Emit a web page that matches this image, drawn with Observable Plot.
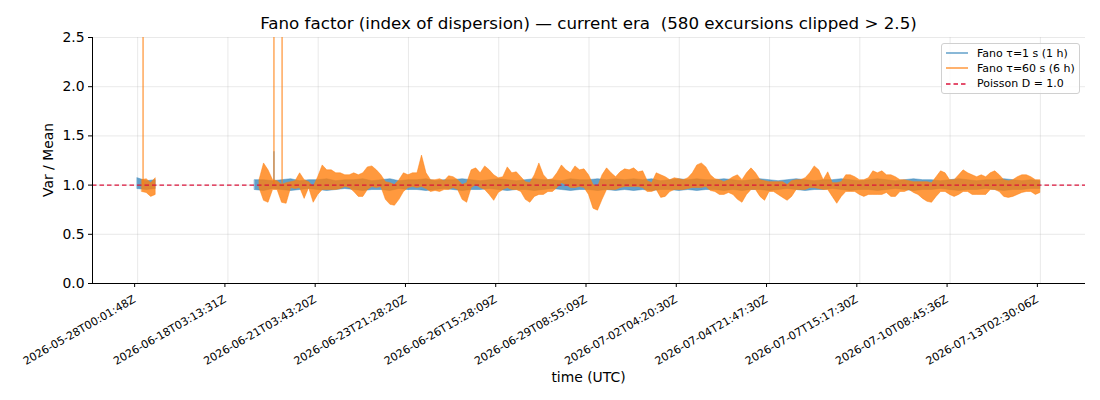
<!DOCTYPE html>
<html><head><meta charset="utf-8">
<script src="https://cdn.jsdelivr.net/npm/d3@7"></script>
<script src="https://cdn.jsdelivr.net/npm/@observablehq/plot@0.6"></script>
<style>
body{margin:0;background:#fff;font-family:"DejaVu Sans",sans-serif;}
#wrap{position:relative;width:1100px;height:400px;overflow:hidden;}
#title{position:absolute;left:92px;width:993px;top:12px;text-align:center;font-size:16.7px;line-height:22px;white-space:pre;color:#000;}
.lab{position:absolute;font-size:13.9px;color:#000;white-space:nowrap;}
#xlab{left:92px;width:993px;top:369px;text-align:center;}
#ylab{left:48px;top:160px;transform:translate(-50%,-50%) rotate(-90deg);}
#legend{position:absolute;left:941px;top:43px;width:137px;height:49px;border:1px solid #d0d0d0;border-radius:3px;background:rgba(255,255,255,0.8);font-size:11px;}
.row{position:absolute;left:3px;height:14px;display:flex;align-items:center;}
.row svg{width:24px;height:14px;margin-right:8px;}
</style></head><body>
<div id="wrap">
<div id="chart"></div>
<div id="title">Fano factor (index of dispersion) — current era  (580 excursions clipped &gt; 2.5)</div>
<div class="lab" id="xlab">time (UTC)</div>
<div class="lab" id="ylab">Var / Mean</div>
<div id="legend"></div>
</div>
<script>
// x tick positions (sample index) and their labels
const tickIndex = [0, 100, 200, 300, 400, 500, 600, 700, 800, 900, 1000];
const tickLabels = ["2026-05-28T00:01:48Z","2026-06-18T03:13:31Z","2026-06-21T03:43:20Z","2026-06-23T21:28:20Z","2026-06-26T15:28:09Z","2026-06-29T08:55:09Z","2026-07-02T04:20:30Z","2026-07-04T21:47:30Z","2026-07-07T15:17:30Z","2026-07-10T08:45:36Z","2026-07-13T02:30:06Z"];

// Fano tau=60 s envelope (low/high), one sample every 5 index steps
const orangeStep = 5;
const orangeLo = [
null,0.93,0.92,0.88,0.90,null,null,null,null,null,
null,null,null,null,null,null,null,null,null,null,
null,null,null,null,null,null,null,0.97,0.84,0.82,
0.95,0.95,0.82,0.81,0.97,0.96,0.97,0.86,0.97,0.82,
0.90,0.95,0.95,0.95,0.95,0.96,0.98,0.97,0.93,0.88,
0.88,0.95,0.98,0.97,0.98,0.85,0.80,0.79,0.85,0.93,
0.97,0.98,0.97,0.98,0.96,0.93,0.94,0.93,0.95,0.95,
0.97,0.95,0.85,0.82,0.97,1.00,0.97,0.95,0.90,0.84,
0.92,0.95,0.97,0.95,0.95,0.93,0.85,0.82,0.88,0.90,
0.90,0.93,0.93,0.97,1.02,1.00,0.97,0.97,0.98,0.97,
0.90,0.76,0.74,0.85,0.95,0.95,0.95,0.97,0.98,0.98,
0.98,0.98,0.97,0.93,0.93,0.95,0.87,0.88,0.93,0.95,
0.95,0.95,0.96,0.97,0.97,0.97,0.98,0.94,0.93,0.90,
0.90,0.92,0.90,0.85,0.82,0.90,0.95,0.95,0.88,0.84,
0.93,0.93,0.90,0.87,0.84,0.88,0.95,0.95,0.95,0.97,
0.97,0.96,0.95,0.95,0.88,0.81,0.88,0.93,0.93,0.93,
0.90,0.88,0.90,0.90,0.90,0.90,0.92,0.88,0.88,0.93,
0.93,0.95,0.92,0.90,0.86,0.83,0.82,0.88,0.93,0.93,
0.90,0.88,0.90,0.93,0.93,0.90,0.90,0.90,0.90,0.95,
0.95,0.93,0.88,0.87,0.88,0.90,0.92,0.93,0.93,0.90,
0.92];
const orangeHi = [
null,1.05,1.06,1.02,1.07,null,null,null,null,null,
null,null,null,null,null,null,null,null,null,null,
null,null,null,null,null,null,null,1.05,1.22,1.15,
1.05,1.04,1.00,1.02,1.03,1.04,1.12,1.05,1.03,0.98,
1.08,1.20,1.15,1.15,1.12,1.12,1.10,1.10,1.12,1.10,
1.12,1.18,1.19,1.15,1.10,1.03,1.02,1.00,1.05,1.12,
1.10,1.12,1.12,1.30,1.12,1.05,1.05,1.06,1.04,1.09,
1.08,1.05,1.00,1.02,1.15,1.17,1.12,1.19,1.15,1.10,
1.07,1.08,1.18,1.12,1.13,1.08,1.03,1.02,1.10,1.22,
1.10,1.05,1.06,1.12,1.20,1.15,1.12,1.19,1.15,1.16,
1.10,1.00,0.98,1.10,1.17,1.12,1.08,1.13,1.16,1.15,
1.17,1.13,1.14,1.04,1.02,1.12,1.10,1.08,1.05,1.07,
1.06,1.05,1.07,1.12,1.20,1.22,1.18,1.10,1.06,1.05,
1.03,1.05,1.08,1.10,1.05,1.12,1.17,1.12,1.05,1.04,
1.03,1.03,1.03,1.03,1.00,1.04,1.05,1.05,1.07,1.12,
1.19,1.15,1.05,1.13,1.02,1.02,1.03,1.10,1.10,1.08,
1.05,1.05,1.07,1.14,1.12,1.14,1.10,1.10,1.08,1.05,
1.05,1.04,1.03,1.03,1.03,1.03,1.02,1.08,1.14,1.12,
1.05,1.05,1.10,1.15,1.12,1.10,1.08,1.10,1.08,1.12,
1.14,1.10,1.05,1.04,1.05,1.08,1.10,1.10,1.08,1.05,
1.05];
// clipped excursions (index, value beyond the top)
const orangeSpikeIndex = [6, 151, 160];
const orangeSpikeValue = [3.0, 3.0, 3.0];

// Fano tau=1 s envelope (low/high), one sample every 10 index steps
const blueStep = 10;
const blueLo = [
0.96,0.95,0.96,null,null,null,null,null,null,null,
null,null,null,0.95,0.94,0.96,0.95,0.94,0.95,0.96,
0.95,0.94,0.95,0.96,0.95,0.94,0.95,0.95,0.94,0.96,
0.95,0.95,0.94,0.95,0.96,0.95,0.94,0.95,0.95,0.96,
0.95,0.94,0.95,0.95,0.94,0.95,0.96,0.95,0.94,0.95,
0.95,0.94,0.95,0.94,0.95,0.94,0.95,0.94,0.95,0.95,
0.94,0.95,0.94,0.95,0.95,0.94,0.95,0.94,0.95,0.95,
0.94,0.95,0.96,0.95,0.94,0.95,0.95,0.96,0.95,0.94,
0.95,0.95,0.94,0.95,0.96,0.95,0.94,0.95,0.95,0.96,
0.95,0.94,0.95,0.95,0.96,0.95,0.94,0.95,0.95,0.96,
0.96];
const blueHi = [
1.07,1.04,1.05,null,null,null,null,null,null,null,
null,null,null,1.05,1.05,1.04,1.05,1.06,1.04,1.05,
1.05,1.06,1.04,1.05,1.05,1.06,1.04,1.05,1.06,1.04,
1.05,1.05,1.06,1.04,1.05,1.05,1.06,1.05,1.04,1.05,
1.06,1.05,1.04,1.05,1.06,1.05,1.05,1.04,1.06,1.05,
1.05,1.06,1.05,1.06,1.05,1.06,1.05,1.06,1.04,1.05,
1.06,1.05,1.06,1.05,1.05,1.06,1.05,1.04,1.05,1.06,
1.05,1.04,1.05,1.06,1.05,1.04,1.05,1.05,1.06,1.05,
1.04,1.05,1.06,1.05,1.04,1.05,1.06,1.05,1.05,1.04,
1.05,1.06,1.05,1.04,1.05,1.05,1.06,1.05,1.04,1.05,
1.04];
const blueSpikeIndex = [151];
const blueSpikeValue = [1.34];

const poissonLevel = 1.0;
const seriesNames = ["Fano τ=1 s (1 h)", "Fano τ=60 s (6 h)", "Poisson D = 1.0"];
const colors = {blue: "#1f77b4", orange: "#ff7f0e", red: "crimson"};

const oData = orangeLo.map((lo, j) => ({i: j * orangeStep, lo, hi: orangeHi[j]}));
const bData = blueLo.map((lo, k) => ({i: k * blueStep, lo, hi: blueHi[k]}));
const oSpikes = orangeSpikeIndex.map((i, n) => ({i, v: orangeSpikeValue[n]}));
const bSpikes = blueSpikeIndex.map((i, n) => ({i, v: blueSpikeValue[n]}));

const xMin = -50, xMax = 1050;
const chart = Plot.plot({
  width: 1100, height: 400,
  marginTop: 37, marginBottom: 117, marginLeft: 92, marginRight: 15,
  style: {fontFamily: "DejaVu Sans, sans-serif", background: "white", color: "black"},
  x: {domain: [xMin, xMax]},
  y: {domain: [0, 2.5]},
  marks: [
    Plot.gridX(tickIndex, {stroke: "#b0b0b0", strokeOpacity: 0.35, strokeWidth: 0.8}),
    Plot.gridY([0, 0.5, 1, 1.5, 2, 2.5], {stroke: "#b0b0b0", strokeOpacity: 0.35, strokeWidth: 0.8}),
    Plot.areaY(bData, {x: "i", y1: "lo", y2: "hi", fill: colors.blue, fillOpacity: 0.7, stroke: colors.blue, strokeOpacity: 0.5, strokeWidth: 0.8, clip: true}),
    Plot.ruleX(bSpikes, {x: "i", y1: poissonLevel, y2: "v", stroke: colors.blue, strokeOpacity: 0.7, strokeWidth: 1.2, clip: true}),
    Plot.areaY(oData, {x: "i", y1: "lo", y2: "hi", fill: colors.orange, fillOpacity: 0.8, stroke: colors.orange, strokeOpacity: 0.6, strokeWidth: 0.8, clip: true}),
    Plot.ruleX(oSpikes, {x: "i", y1: poissonLevel, y2: "v", stroke: colors.orange, strokeOpacity: 0.85, strokeWidth: 1.2, clip: true}),
    Plot.ruleY([poissonLevel], {stroke: colors.red, strokeWidth: 1.2, strokeDasharray: "4.5,3"}),
    Plot.ruleX([xMin], {stroke: "black", strokeWidth: 1}),
    Plot.ruleY([0], {stroke: "black", strokeWidth: 1}),
    Plot.axisX(tickIndex, {tickFormat: (d, n) => tickLabels[n], tickRotate: -30, tickSize: 4, tickPadding: 11, dx: -3, fontSize: 11, label: null}),
    Plot.axisY([0, 0.5, 1, 1.5, 2, 2.5], {tickFormat: d3.format(".1f"), tickSize: 4, tickPadding: 4, fontSize: 13.9, label: null})
  ]
});
chart.querySelectorAll("text").forEach(t => t.setAttribute("fill", "black"));
document.getElementById("chart").appendChild(chart);

// legend
const legend = document.getElementById("legend");
const legendStyles = [
  {stroke: colors.blue, opacity: 0.7, dash: null},
  {stroke: colors.orange, opacity: 0.8, dash: null},
  {stroke: colors.red, opacity: 1, dash: "4.5,3"}
];
seriesNames.forEach((name, n) => {
  const row = document.createElement("div");
  row.className = "row";
  row.style.top = (2 + n * 15.3) + "px";
  const s = legendStyles[n];
  row.innerHTML = `<svg><line x1="1" x2="23" y1="7" y2="7" stroke="${s.stroke}" stroke-opacity="${s.opacity}" stroke-width="1.5" ${s.dash ? `stroke-dasharray="${s.dash}"` : ""}/></svg><span>${name}</span>`;
  legend.appendChild(row);
});
</script>
</body></html>
